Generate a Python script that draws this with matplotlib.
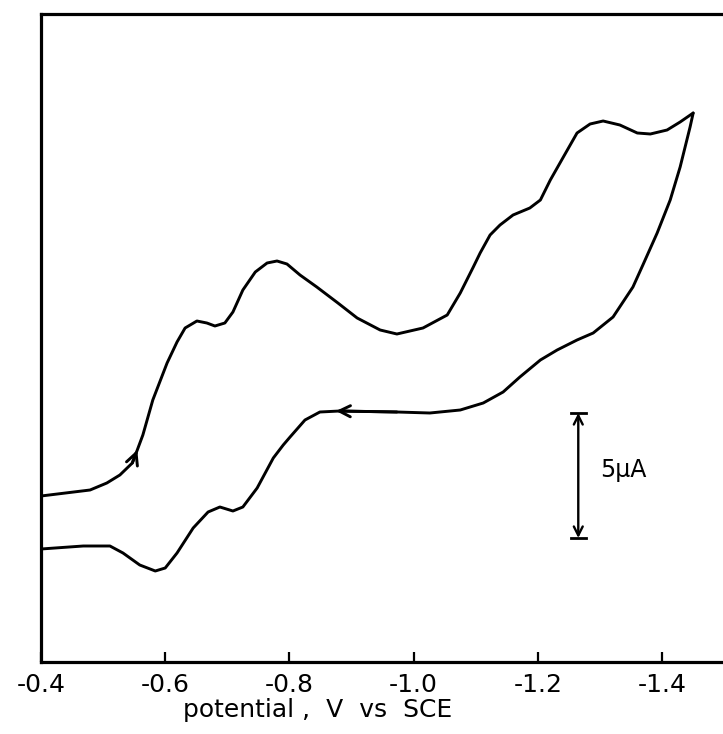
import matplotlib
matplotlib.use('Agg')
import matplotlib.pyplot as plt
import numpy as np

plt.rcParams['axes.unicode_minus'] = False
plt.rcParams['font.family'] = 'DejaVu Sans'

#%% data (potential in V vs SCE, current in uA, cathodic up)

# forward scan, -0.4 V -> -1.45 V
E_forward = [-0.400, -0.479, -0.506, -0.527, -0.547, -0.555, -0.564, -0.580, -0.603,
             -0.619, -0.632, -0.651, -0.667, -0.680, -0.696, -0.709, -0.725, -0.745,
             -0.764, -0.780, -0.796, -0.817, -0.844, -0.878, -0.909, -0.946, -0.973,
             -1.015, -1.054, -1.075, -1.096, -1.107, -1.123, -1.139, -1.160, -1.187,
             -1.204, -1.220, -1.241, -1.263, -1.284, -1.305, -1.332, -1.360, -1.381,
             -1.408, -1.429, -1.450]
I_forward = [6.64, 6.88, 7.16, 7.48, 7.96, 8.48, 9.08, 10.48, 11.96,
             12.80, 13.36, 13.64, 13.56, 13.44, 13.56, 14.00, 14.88, 15.60,
             15.96, 16.04, 15.92, 15.48, 15.00, 14.36, 13.76, 13.28, 13.12,
             13.36, 13.88, 14.76, 15.80, 16.36, 17.08, 17.48, 17.88, 18.16,
             18.48, 19.28, 20.20, 21.16, 21.52, 21.64, 21.48, 21.16, 21.12,
             21.28, 21.60, 21.96]

# reverse scan, -1.45 V -> -0.4 V
E_reverse = [-1.450, -1.445, -1.429, -1.413, -1.392, -1.369, -1.353, -1.321, -1.289,
             -1.263, -1.231, -1.204, -1.171, -1.144, -1.112, -1.075, -1.026, -0.973,
             -0.881, -0.849, -0.825, -0.801, -0.790, -0.774, -0.748, -0.725, -0.709,
             -0.688, -0.669, -0.645, -0.619, -0.600, -0.584, -0.559, -0.532, -0.511,
             -0.468, -0.400]
I_reverse = [21.96, 21.40, 19.80, 18.48, 17.16, 15.88, 15.00, 13.80, 13.16,
             12.88, 12.48, 12.08, 11.40, 10.80, 10.36, 10.08, 9.96, 10.00,
             10.04, 10.00, 9.68, 9.00, 8.68, 8.16, 6.96, 6.20, 6.04,
             6.20, 6.00, 5.36, 4.36, 3.76, 3.64, 3.88, 4.36, 4.64,
             4.64, 4.52]

tick_values = [-0.4, -0.6, -0.8, -1.0, -1.2, -1.4]
tick_labels = ['-0.4', '-0.6', '-0.8', '-1.0', '-1.2', '-1.4']

scale_bar_E = -1.265
scale_bar_I = [4.96, 9.96]   # 5 uA
scale_label = '5\u03bcA'

#%% figure
fig = plt.figure(figsize=(7.23, 7.34), dpi=100)
ax = fig.add_axes([41/723, 1 - 662/734, 1 - 41/723, (662 - 14)/734])

lw = 2.1
ax.plot(E_forward, I_forward, color='black', lw=lw, solid_joinstyle='round', solid_capstyle='round')
ax.plot(E_reverse, I_reverse, color='black', lw=lw, solid_joinstyle='round', solid_capstyle='round')

# scan direction arrows
ax.annotate('', xy=(E_forward[5], I_forward[5]), xytext=(E_forward[4], I_forward[4]),
            arrowprops=dict(arrowstyle='->', lw=lw, color='black', mutation_scale=21,
                            shrinkA=0, shrinkB=0))
ax.annotate('', xy=(E_reverse[18] + 0.006, I_reverse[18]), xytext=(E_reverse[17], I_reverse[17]),
            arrowprops=dict(arrowstyle='->', lw=lw, color='black', mutation_scale=20,
                            shrinkA=0, shrinkB=0))

# current scale bar
ax.annotate('', xy=(scale_bar_E, scale_bar_I[1]), xytext=(scale_bar_E, scale_bar_I[0]),
            arrowprops=dict(arrowstyle='<->', lw=1.7, color='black', mutation_scale=16,
                            shrinkA=0, shrinkB=0))
for yb in scale_bar_I:
    ax.plot([scale_bar_E - 0.012, scale_bar_E + 0.012], [yb, yb], color='black', lw=2.0)
ax.text(scale_bar_E - 0.035, np.mean(scale_bar_I) + 0.2, scale_label,
        fontsize=17, va='center', ha='left')

#%% axes styling
ax.set_xlim(-0.4, -1.498)
ax.set_ylim(0, 25.92)
ax.set_xticks(tick_values)
ax.set_xticklabels(tick_labels, fontsize=18)
ax.tick_params(axis='x', direction='in', length=7, width=1.6, pad=8)
ax.set_yticks([])
ax.spines['right'].set_visible(False)
for side in ['left', 'bottom', 'top']:
    ax.spines[side].set_linewidth(2.3)

ax.set_xlabel('potential ,  V  vs  SCE', fontsize=18, labelpad=0)
ax.xaxis.set_label_coords(0.406, -0.055)

fig.savefig('out.png', dpi=100)
